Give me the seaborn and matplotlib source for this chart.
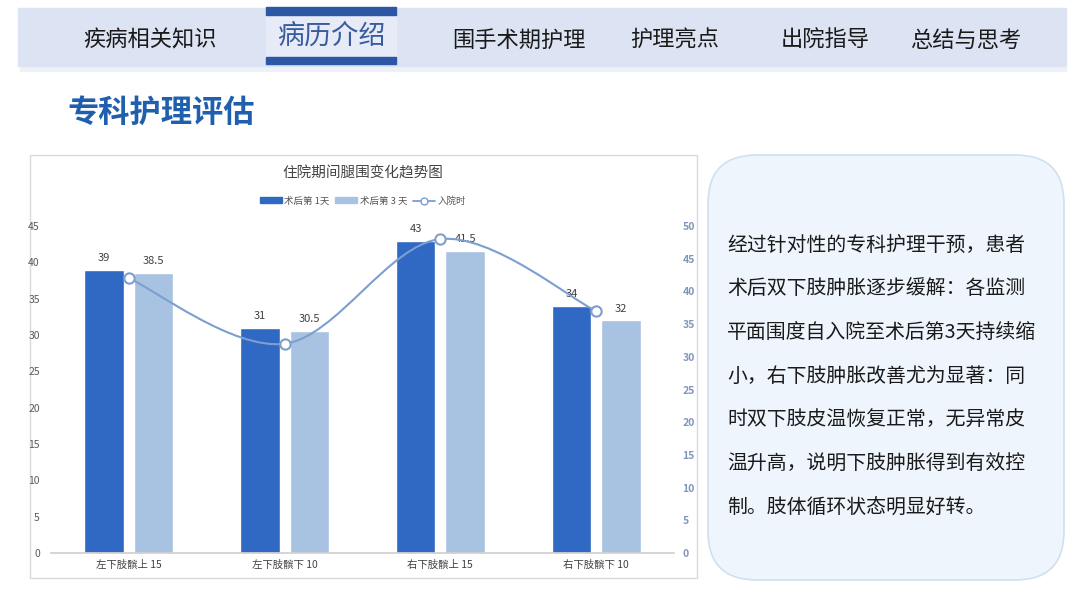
import matplotlib
matplotlib.use("Agg")
import matplotlib.pyplot as plt
import seaborn as sns
import pandas as pd
from matplotlib.patches import Rectangle, FancyBboxPatch, Patch, PathPatch
from matplotlib.lines import Line2D
from matplotlib.path import Path

sns.set_theme(style="white")
plt.rcParams['font.family'] = ['Noto Sans CJK SC', 'DejaVu Sans']

# data
categories = ["左下肢髌上 15", "左下肢髌下 10", "右下肢髌上 15", "右下肢髌下 10"]
day1 = [39, 31, 43, 34]
day3 = [38.5, 30.5, 41.5, 32]
admission = [42, 32, 48, 37]
series_names = ["术后第 1天", "术后第 3 天", "入院时"]
nav_items = ["疾病相关知识", "病历介绍", "围手术期护理", "护理亮点", "出院指导", "总结与思考"]
nav_x = [150, 331, 519, 675, 825, 966]
body_lines = [
    "经过针对性的专科护理干预，患者",
    "术后双下肢肿胀逐步缓解：各监测",
    "平面围度自入院至术后第3天持续缩",
    "小，右下肢肿胀改善尤为显著：同",
    "时双下肢皮温恢复正常，无异常皮",
    "温升高，说明下肢肿胀得到有效控",
    "制。肢体循环状态明显好转。",
]

dark = "#2f69c3"
light = "#a8c2e2"
line_c = "#7c9fd0"

W, H = 1080, 608
fig = plt.figure(figsize=(10.8, 6.08), dpi=100)
fig.patch.set_facecolor("white")

def fx(px):
    return px / W

def fy(py):
    return 1 - py / H

# header band
fig.add_artist(Rectangle((fx(20), fy(71)), fx(1046), 5 / H, color="#eef1f8", zorder=0))
fig.add_artist(Rectangle((fx(18), fy(66)), fx(1048), 58 / H, color="#dce3f2", zorder=1))
fig.add_artist(Rectangle((fx(266), fy(57)), fx(130), 42 / H, color="#e6ebf7", zorder=1))
fig.add_artist(Rectangle((fx(266), fy(15)), fx(130), 8 / H, color="#2d56a5", zorder=2))
fig.add_artist(Rectangle((fx(266), fy(64)), fx(130), 7 / H, color="#2d56a5", zorder=2))
for name, x in zip(nav_items, nav_x):
    if name == "病历介绍":
        fig.text(fx(x), fy(36), name, ha="center", va="center", fontsize=19.5,
                 color="#3a5c9e", zorder=3)
    else:
        fig.text(fx(x), fy(40), name, ha="center", va="center", fontsize=16,
                 color="#1a1a1a", zorder=3)

fig.text(fx(67), fy(113), "专科护理评估", ha="left", va="center", fontsize=22.5,
         fontweight="bold", color="#1f5fae")

# chart panel
fig.add_artist(Rectangle((fx(30), fy(578)), fx(667), 423 / H, facecolor="white",
                         edgecolor="#d9d9d9", linewidth=1, zorder=0))
fig.text(fx(363), fy(173), "住院期间腿围变化趋势图", ha="center", va="center",
         fontsize=10.5, color="#444444")

# text box
fig.add_artist(FancyBboxPatch((fx(708), fy(580)), fx(356), 425 / H,
                              boxstyle="round,pad=0,rounding_size=0.045",
                              facecolor="#eef5fc", edgecolor="#cfe0f1", linewidth=1.2,
                              mutation_aspect=W / H, zorder=0))
for i, line in enumerate(body_lines):
    fig.text(fx(727), fy(245 + i * 43.8), line, ha="left", va="center",
             fontsize=14.3, color="#1a1a1a")

# bars
df = pd.DataFrame({
    "cat": categories * 2,
    "val": day1 + day3,
    "series": [series_names[0]] * 4 + [series_names[1]] * 4,
})
ax = fig.add_axes([fx(51), 1 - 553 / H, fx(623), 327 / H])
sns.barplot(data=df, x="cat", y="val", hue="series", hue_order=series_names[:2],
            palette=[dark, light], width=0.636, gap=0.2, saturation=1, ax=ax, legend=False)
for cont in ax.containers:
    ax.bar_label(cont, labels=[f"{v:g}" for v in cont.datavalues], padding=5,
                 fontsize=8, color="#404040")
ax.set_ylim(0, 45)
ax.set_xlim(-0.5, 3.5)
ax.set_yticks(range(0, 46, 5))
ax.set_xlabel("")
ax.set_ylabel("")
ax.tick_params(axis="y", labelsize=7.5, colors="#595959", length=0, pad=8)
ax.tick_params(axis="x", labelsize=7.5, colors="#404040", length=0, pad=5)
for s in ["top", "right", "left"]:
    ax.spines[s].set_visible(False)
ax.spines["bottom"].set_color("#d0d0d0")
ax.patch.set_alpha(0)

# admission line (smooth) on right axis
ax2 = ax.twinx()
ax2.set_ylim(0, 50)
ax2.set_yticks(range(0, 51, 5))
ax2.tick_params(axis="y", labelsize=7.5, colors="#8196ba", length=0, pad=6)
for lbl in ax2.get_yticklabels():
    lbl.set_fontweight("bold")
for s in ax2.spines.values():
    s.set_visible(False)
pts = list(zip(range(len(admission)), admission))
verts = [pts[0]]
codes = [Path.MOVETO]
for i in range(len(pts) - 1):
    p0 = pts[i - 1] if i > 0 else pts[i]
    p1, p2 = pts[i], pts[i + 1]
    p3 = pts[i + 2] if i + 2 < len(pts) else pts[i + 1]
    c1 = (p1[0] + (p2[0] - p0[0]) / 6, p1[1] + (p2[1] - p0[1]) / 6)
    c2 = (p2[0] - (p3[0] - p1[0]) / 6, p2[1] - (p3[1] - p1[1]) / 6)
    verts += [c1, c2, p2]
    codes += [Path.CURVE4] * 3
ax2.add_patch(PathPatch(Path(verts, codes), facecolor="none", edgecolor=line_c,
                        linewidth=1.5, zorder=3))
sns.scatterplot(x=list(range(len(admission))), y=admission, ax=ax2, s=55,
                color="white", edgecolor=line_c, linewidth=1.5, zorder=4)
ax2.set_xlim(-0.5, 3.5)

# legend
handles = [Patch(color=dark), Patch(color=light),
           Line2D([0], [0], color=line_c, marker="o", markerfacecolor="white",
                  markersize=5, linewidth=1.3)]
fig.legend(handles, series_names, loc="center", bbox_to_anchor=(fx(363), fy(201)),
           ncol=3, frameon=False, fontsize=6.8, handlelength=2.3, handleheight=0.6,
           handletextpad=0.3, columnspacing=0.6, labelcolor="#555555")

fig.savefig("out.png", dpi=100)
